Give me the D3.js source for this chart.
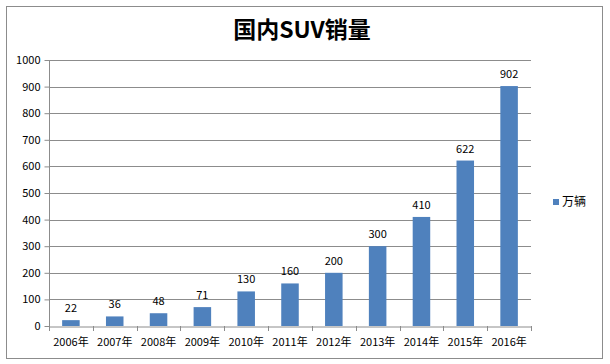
<!DOCTYPE html>
<html><head><meta charset="utf-8">
<script src="https://cdn.jsdelivr.net/npm/d3@7"></script>
<style>body{margin:0;background:#fff;}svg{display:block;}</style>
</head><body>
<script>
const categories = ["2006年","2007年","2008年","2009年","2010年","2011年","2012年","2013年","2014年","2015年","2016年"];
const values = [22,36,48,71,130,160,200,300,410,622,902];
const yTicks = [0,100,200,300,400,500,600,700,800,900,1000];
const seriesName = "万辆";
const title = "国内SUV销量";

const W=610,H=364;
const svg=d3.select("body").append("svg").attr("width",W).attr("height",H);
svg.append("rect").attr("x",6.5).attr("y",6.5).attr("width",596).attr("height",352).attr("fill","#fff").attr("stroke","#8c8c8c");
const font="'Noto Sans CJK SC', 'DejaVu Sans', sans-serif";
svg.append("text").attr("x",302).attr("y",38).attr("text-anchor","middle").attr("font-family",font).attr("font-weight","bold").attr("font-size",23).attr("fill","#000").text(title);

const L=49,R=531,T=60,B=326;
const x=d3.scaleBand().domain(categories).range([L,R]).paddingInner(0.6).paddingOuter(0.3);
const xb=d3.scaleBand().domain(categories).range([L,R]);
const y=d3.scaleLinear().domain([0,1000]).range([B,T]);

// grid
svg.append("g").selectAll("line").data(yTicks.slice(1)).join("line")
 .attr("x1",L).attr("x2",R).attr("y1",d=>Math.round(y(d))+0.5).attr("y2",d=>Math.round(y(d))+0.5)
 .attr("stroke","#8c8c8c").attr("stroke-width",1);

// y axis
const ya=svg.append("g").attr("transform",`translate(${L+0.5},0)`).call(d3.axisLeft(y).tickValues(yTicks).tickSize(5).tickPadding(4).tickFormat(d3.format("d")));
ya.select(".domain").attr("stroke","#8c8c8c").attr("d",`M0,${T}V${B}`);
ya.selectAll(".tick line").attr("stroke","#8c8c8c");
ya.selectAll("text").attr("font-family",font).attr("font-size",11).attr("fill","#000");

// bars
svg.append("g").selectAll("rect").data(values).join("rect")
 .attr("x",(d,i)=>x(categories[i])).attr("width",x.bandwidth())
 .attr("y",d=>y(d)).attr("height",d=>B-y(d)).attr("fill","#4f81bd");

// labels
svg.append("g").selectAll("text").data(values).join("text")
 .attr("x",(d,i)=>x(categories[i])+x.bandwidth()/2).attr("y",d=>y(d)-8)
 .attr("text-anchor","middle").attr("font-family",font).attr("font-size",11).attr("fill","#000").text(d=>d);

// x axis
const xa=svg.append("g").attr("transform",`translate(0,${B+0.5})`).call(d3.axisBottom(xb).tickSize(0).tickPadding(12));
xa.select(".domain").attr("stroke","#8c8c8c");
xa.selectAll("text").attr("font-family",font).attr("font-size",11).attr("fill","#000");
svg.append("g").selectAll("line").data(d3.range(categories.length+1)).join("line")
 .attr("x1",i=>Math.round(L+i*xb.step())+0.5).attr("x2",i=>Math.round(L+i*xb.step())+0.5)
 .attr("y1",B).attr("y2",B+5).attr("stroke","#8c8c8c");

// legend
svg.append("rect").attr("x",553).attr("y",199).attr("width",6).attr("height",6).attr("fill","#4f81bd");
svg.append("text").attr("x",562).attr("y",206).attr("font-family",font).attr("font-size",12).attr("fill","#000").text(seriesName);
</script>
</body></html>
